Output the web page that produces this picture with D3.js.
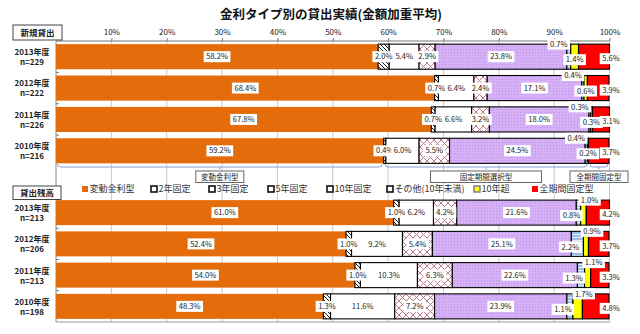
<!DOCTYPE html>
<html><head><meta charset="utf-8">
<script src="https://cdn.jsdelivr.net/npm/d3@7"></script>
<style>
body{margin:0;background:#fff}
svg{display:block}
text{font-family:"Noto Sans CJK JP","Liberation Sans",sans-serif}
</style>
</head><body>
<svg id="c" width="640" height="334"></svg>
<script>
// ---------------- data ----------------
const title = "金利タイプ別の貸出実績(金額加重平均)";
const types = ["変動金利型","2年固定","3年固定","5年固定","10年固定","その他(10年未満)","10年超","全期間固定型"];
const tickValues = [10,20,30,40,50,60,70,80,90,100];
const tickLabels = ["10%","20%","30%","40%","50%","60%","70%","80%","90%","100%"];
const sectionNames = ["新規貸出","貸出残高"];
const newYears = ["2013年度","2012年度","2011年度","2010年度"];
const newN = ["n=229","n=222","n=226","n=216"];
const newValues = [
  [58.2,2.0,5.4,2.9,23.8,0.7,1.4,5.6],
  [68.4,0.7,6.4,2.4,17.1,0.4,0.6,3.9],
  [67.8,0.7,6.6,3.2,18.0,0.3,0.3,3.1],
  [59.2,0.4,6.0,5.5,24.5,0.4,0.2,3.7]
];
const balYears = ["2013年度","2012年度","2011年度","2010年度"];
const balN = ["n=213","n=206","n=213","n=198"];
const balValues = [
  [61.0,1.0,6.2,4.2,21.6,0.8,1.0,4.2],
  [52.4,1.0,9.2,5.4,25.1,2.2,0.9,3.7],
  [54.0,1.0,10.3,6.3,22.6,1.3,1.1,3.3],
  [48.3,1.3,11.6,7.2,23.9,1.1,1.7,4.8]
];
const groupNames = ["変動金利型","固定期間選択型","全期間固定型"];
const groupTypeRanges = [[0,1],[1,7],[7,8]];

// ---------------- setup ----------------
const svg = d3.select("#c");
const defs = svg.append("defs");
const x = d3.scaleLinear().domain([0,100]).range([56,609.5]);
const yTop = d3.scaleBand().domain(newYears).range([41,166.5]).paddingInner(0.2).paddingOuter(0.1);
const yBot = d3.scaleBand().domain(balYears).range([197,322]).paddingInner(0.2).paddingOuter(0.1);

// patterns
function pat(id,w,h,bg){const p=defs.append("pattern").attr("id",id).attr("patternUnits","userSpaceOnUse").attr("width",w).attr("height",h);
  p.append("rect").attr("width",w).attr("height",h).attr("fill",bg);return p;}
pat("p2",4,4,"#fff").append("path").attr("d","M-1,3 L1,5 M0,0 L4,4 M3,-1 L5,1").attr("stroke","#000").attr("stroke-width",0.9);
pat("p5",7,7,"#fff").append("path").attr("d","M0,0 L7,7 M7,0 L0,7").attr("stroke","#c07a8a").attr("stroke-width",1);
{const p=pat("p10",3,3,"#d6b0f7");p.append("rect").attr("x",1).attr("y",1).attr("width",1).attr("height",1).attr("fill","#bf94e8");}
{const p=pat("pOth",3,3,"#9dbbe8");p.append("rect").attr("x",0).attr("y",0).attr("width",3).attr("height",1).attr("fill","#e4eefb");}
const fills = ["#e46c0a","url(#p2)","#ffffff","url(#p5)","url(#p10)","url(#pOth)","#ffff00","#ff0000"];

// title
svg.append("text").attr("x",331).attr("y",19).attr("text-anchor","middle")
  .attr("font-size",12.5).attr("font-weight","bold").attr("fill","#111").text(title);

// gridlines
svg.append("g").selectAll("line").data(tickValues).join("line")
  .attr("x1",d=>x(d)).attr("x2",d=>x(d)).attr("y1",41).attr("y2",322)
  .attr("stroke","#c9c9c9").attr("stroke-width",1);

// top axis
const ax = svg.append("g").attr("transform","translate(0,41)")
  .call(d3.axisTop(x).tickValues(tickValues).tickFormat((d,i)=>tickLabels[i]).tickSize(3).tickSizeOuter(0));
ax.select(".domain").attr("stroke","#777").attr("d",`M${x(0)},0H${x(100)}`);
ax.selectAll(".tick line").attr("stroke","#777");
ax.selectAll(".tick text").attr("font-size",8).attr("fill","#222").attr("font-family","Liberation Sans, sans-serif");

// left & bottom frame
svg.append("line").attr("x1",56).attr("x2",56).attr("y1",41).attr("y2",322).attr("stroke","#888");
svg.append("line").attr("x1",56).attr("x2",x(100)).attr("y1",322).attr("y2",322).attr("stroke","#999");

function drawSection(years, ns, values, y, upperIsOther){
  const g = svg.append("g");
  const step = y.step(), bw = y.bandwidth();
  years.slice(0,-1).forEach(yr=>{
    const yy = y(yr)+bw+(step-bw)/2;
    g.append("line").attr("x1",56).attr("x2",59).attr("y1",yy).attr("y2",yy).attr("stroke","#777");
  });
  years.forEach((yr,r)=>{
    let cum=0;
    const segs = values[r].map((v,i)=>{const s={i,v,x0:cum,x1:cum+v};cum+=v;return s;});
    const y0 = y(yr), yc = y0+bw/2;
    g.selectAll(null).data(segs).join("rect")
      .attr("x",d=>x(d.x0)).attr("width",d=>Math.max(0,x(d.x1)-x(d.x0)))
      .attr("y",y0).attr("height",bw)
      .attr("fill",d=>fills[d.i])
      .attr("stroke",d=>d.i===0?"none":"#000").attr("stroke-width",1.1);
    // year label
    g.append("text").attr("x",32).attr("y",yc-4.5).attr("dy","0.36em").attr("text-anchor","middle").attr("font-size",8)
      .attr("font-weight","bold").attr("fill","#222").text(yr);
    g.append("text").attr("x",32).attr("y",yc+5.5).attr("dy","0.36em").attr("text-anchor","middle").attr("font-size",8)
      .attr("font-weight","bold").attr("fill","#222").attr("font-family","Liberation Sans, sans-serif").text(ns[r]);
    // value labels
    segs.forEach(s=>{
      let lx = x((s.x0+s.x1)/2), ly = yc;
      if(s.i===5){ if(upperIsOther){lx-=10; ly=y0;} else {lx-=7; ly=yc+3;} }
      if(s.i===6){ if(upperIsOther){ly=yc+3;} else {lx+=6; ly=y0;} }
      if(s.i===7){ lx = x(100)+1.5; ly = yc+2; }
      const lg = g.append("g");
      const t = lg.append("text").attr("x",lx).attr("y",ly).attr("dy","0.35em").attr("text-anchor","middle")
        .attr("font-size",7.6).attr("fill","#222").attr("font-family","Liberation Sans, sans-serif")
        .text(s.v.toFixed(1)+"%");
      const w = t.node().getComputedTextLength();
      lg.insert("rect","text").attr("x",lx-w/2-2.5).attr("y",ly-5.5).attr("width",w+5).attr("height",11).attr("fill","#fff");
    });
  });
}
drawSection(newYears,newN,newValues,yTop,true);
drawSection(balYears,balN,balValues,yBot,false);

// section name boxes
[[sectionNames[0],13,25,49,15],[sectionNames[1],13,186,48,13.5]].forEach(([t,bx,by,bw,bh])=>{
  svg.append("rect").attr("x",bx).attr("y",by).attr("width",bw).attr("height",bh).attr("fill","#fff").attr("stroke","#444").attr("stroke-width",1);
  svg.append("text").attr("x",bx+bw/2).attr("y",by+bh/2).attr("dy","0.36em").attr("text-anchor","middle")
    .attr("font-size",8.5).attr("font-weight","bold").attr("fill","#222").text(t);
});

// group brackets (based on last row of 新規貸出)
const ref = newValues[newValues.length-1];
const cumAt = k => d3.sum(ref.slice(0,k));
const boxW = [48,111,58];
groupTypeRanges.forEach(([a,b],gi)=>{
  const xa = x(cumAt(a))+1.5, xb = x(b===8?100:cumAt(b))-1.5, xm=(xa+xb)/2, yy=167;
  svg.append("path").attr("d",`M${xa},${yy-3} Q${xa},${yy} ${xa+3},${yy} H${xb-3} Q${xb},${yy} ${xb},${yy-3} M${xm},${yy} V${yy+2.5}`)
    .attr("fill","none").attr("stroke","#8b9bd8").attr("stroke-width",1);
  const w = boxW[gi];
  svg.append("rect").attr("x",xm-w/2).attr("y",171).attr("width",w).attr("height",11.5).attr("fill","#fff").attr("stroke","#555").attr("stroke-width",0.9);
  svg.append("text").attr("x",xm).attr("y",176.8).attr("dy","0.36em").attr("text-anchor","middle").attr("font-size",7.5)
    .attr("fill","#222").text(groupNames[gi]);
});

// legend
const legX = [82,151,209,268,327,387,474,532];
types.forEach((t,i)=>{
  const lx = legX[i], ly = 189;
  const noBorder = (i===0||i===7);
  svg.append("rect").attr("x",lx).attr("y",ly-3).attr("width",6).attr("height",6)
    .attr("fill",noBorder?fills[i]:(i===6?"#ffff00":"#fff"))
    .attr("stroke",noBorder?"none":(i===6?"#888":"#111")).attr("stroke-width",noBorder?0:1.6);
  svg.append("text").attr("x",lx+7.5).attr("y",ly).attr("dy","0.36em").attr("font-size",9)
    .attr("fill","#333").text(t);
});
</script>
</body></html>
